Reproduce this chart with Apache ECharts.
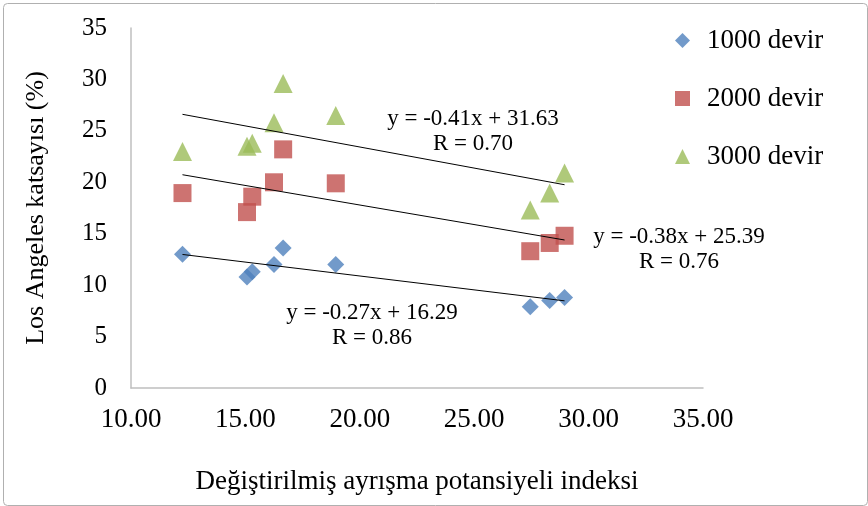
<!DOCTYPE html>
<html>
<head>
<meta charset="utf-8">
<script src="https://cdn.jsdelivr.net/npm/echarts@6/dist/echarts.min.js"></script>
<style>
  html, body { margin: 0; padding: 0; background: #fff; }
  #chart { width: 868px; height: 506px; }
</style>
</head>
<body>
<div id="chart"></div>
<script>
  // x values (Değiştirilmiş ayrışma potansiyeli indeksi)
  const xVals = [12.25, 15.07, 15.3, 16.25, 16.65, 18.95, 27.45, 28.3, 28.95]
  // Los Angeles katsayısı (%)
  const devir1000 = [13.0, 10.8, 11.3, 12.0, 13.6, 12.0, 7.9, 8.5, 8.8]
  const devir2000 = [18.95, 17.1, 18.6, 20.0, 23.2, 19.9, 13.3, 14.1, 14.8]
  const devir3000 = [23.0, 23.5, 23.8, 25.8, 29.6, 26.5, 17.3, 18.95, 20.9]
  const seriesNames = ['1000 devir', '2000 devir', '3000 devir']
  // trend lines: slope, intercept, R
  const slopes = [-0.27, -0.38, -0.41]
  const intercepts = [16.29, 25.39, 31.63]
  const rValues = ['0.86', '0.76', '0.70']

  const font = '"Liberation Serif", "Times New Roman", serif'
  const colors = ['#4f81bd', '#c0504d', '#9bbb59']
  const symbols = ['diamond', 'rect', 'triangle']
  const sizes = [17, 18, 19]

  let chart = echarts.init(document.getElementById('chart'))

  let xMin = Math.min(...xVals)
  let xMax = Math.max(...xVals)

  let series = [devir1000, devir2000, devir3000].map((ys, i) => ({
    name: seriesNames[i],
    type: 'scatter',
    symbol: symbols[i],
    symbolSize: sizes[i],
    itemStyle: { color: colors[i] },
    data: ys.map((y, j) => [xVals[j], y]),
    z: 3
  }))

  slopes.forEach((m, i) => {
    series.push({
      name: 'trend' + i,
      type: 'line',
      symbol: 'none',
      silent: true,
      lineStyle: { color: '#000', width: 1 },
      data: [[xMin, m * xMin + intercepts[i]], [xMax, m * xMax + intercepts[i]]],
      z: 4
    })
  })

  // equation labels
  const labelPos = [[372, 313], [679, 237], [473, 119]]
  let graphic = [{
    type: 'rect',
    left: 1, top: 1,
    shape: { width: 864, height: 502, r: 4 },
    style: { fill: 'none', stroke: '#b0b0b0', lineWidth: 1 },
    silent: true
  }]
  slopes.forEach((m, i) => {
    graphic.push({
      type: 'text',
      x: labelPos[i][0], y: labelPos[i][1],
      style: {
        text: 'y = ' + m.toFixed(2) + 'x + ' + intercepts[i].toFixed(2),
        font: '23px ' + font, fill: '#000',
        textAlign: 'center', textVerticalAlign: 'middle'
      }
    })
    graphic.push({
      type: 'text',
      x: labelPos[i][0], y: labelPos[i][1] + 25,
      style: {
        text: 'R = ' + rValues[i],
        font: '23px ' + font, fill: '#000',
        textAlign: 'center', textVerticalAlign: 'middle'
      }
    })
  })

  let option = {
    animation: false,
    textStyle: { fontFamily: font },
    grid: {
      left: 131,
      top: 28,
      right: 165,
      bottom: 118
    },
    legend: {
      orient: 'vertical',
      left: 670,
      top: 22,
      itemGap: 31,
      itemWidth: 15,
      itemHeight: 15,
      data: seriesNames,
      textStyle: { fontFamily: font, fontSize: 27, color: '#000', padding: [0, 0, 0, 12] }
    },
    xAxis: {
      type: 'value',
      min: 10,
      max: 35,
      interval: 5,
      name: 'Değiştirilmiş ayrışma potansiyeli indeksi',
      nameLocation: 'middle',
      nameGap: 80,
      nameTextStyle: { fontFamily: font, fontSize: 27, color: '#000' },
      axisLine: { lineStyle: { color: '#bfbfbf', width: 1.5 } },
      axisTick: { show: false },
      splitLine: { show: false },
      axisLabel: {
        margin: 18,
        fontSize: 27,
        color: '#000',
        formatter: v => v.toFixed(2)
      }
    },
    yAxis: {
      type: 'value',
      min: 0,
      max: 35,
      interval: 5,
      name: 'Los Angeles katsayısı (%)',
      nameLocation: 'middle',
      nameGap: 82,
      nameRotate: 90,
      nameTextStyle: { fontFamily: font, fontSize: 26, color: '#000' },
      axisLine: { show: true, lineStyle: { color: '#bfbfbf', width: 1.5 } },
      axisTick: { show: false },
      splitLine: { show: false },
      axisLabel: { margin: 24, fontSize: 25, color: '#000' }
    },
    graphic: graphic,
    series: series
  }
  chart.setOption(option)
</script>
</body>
</html>
